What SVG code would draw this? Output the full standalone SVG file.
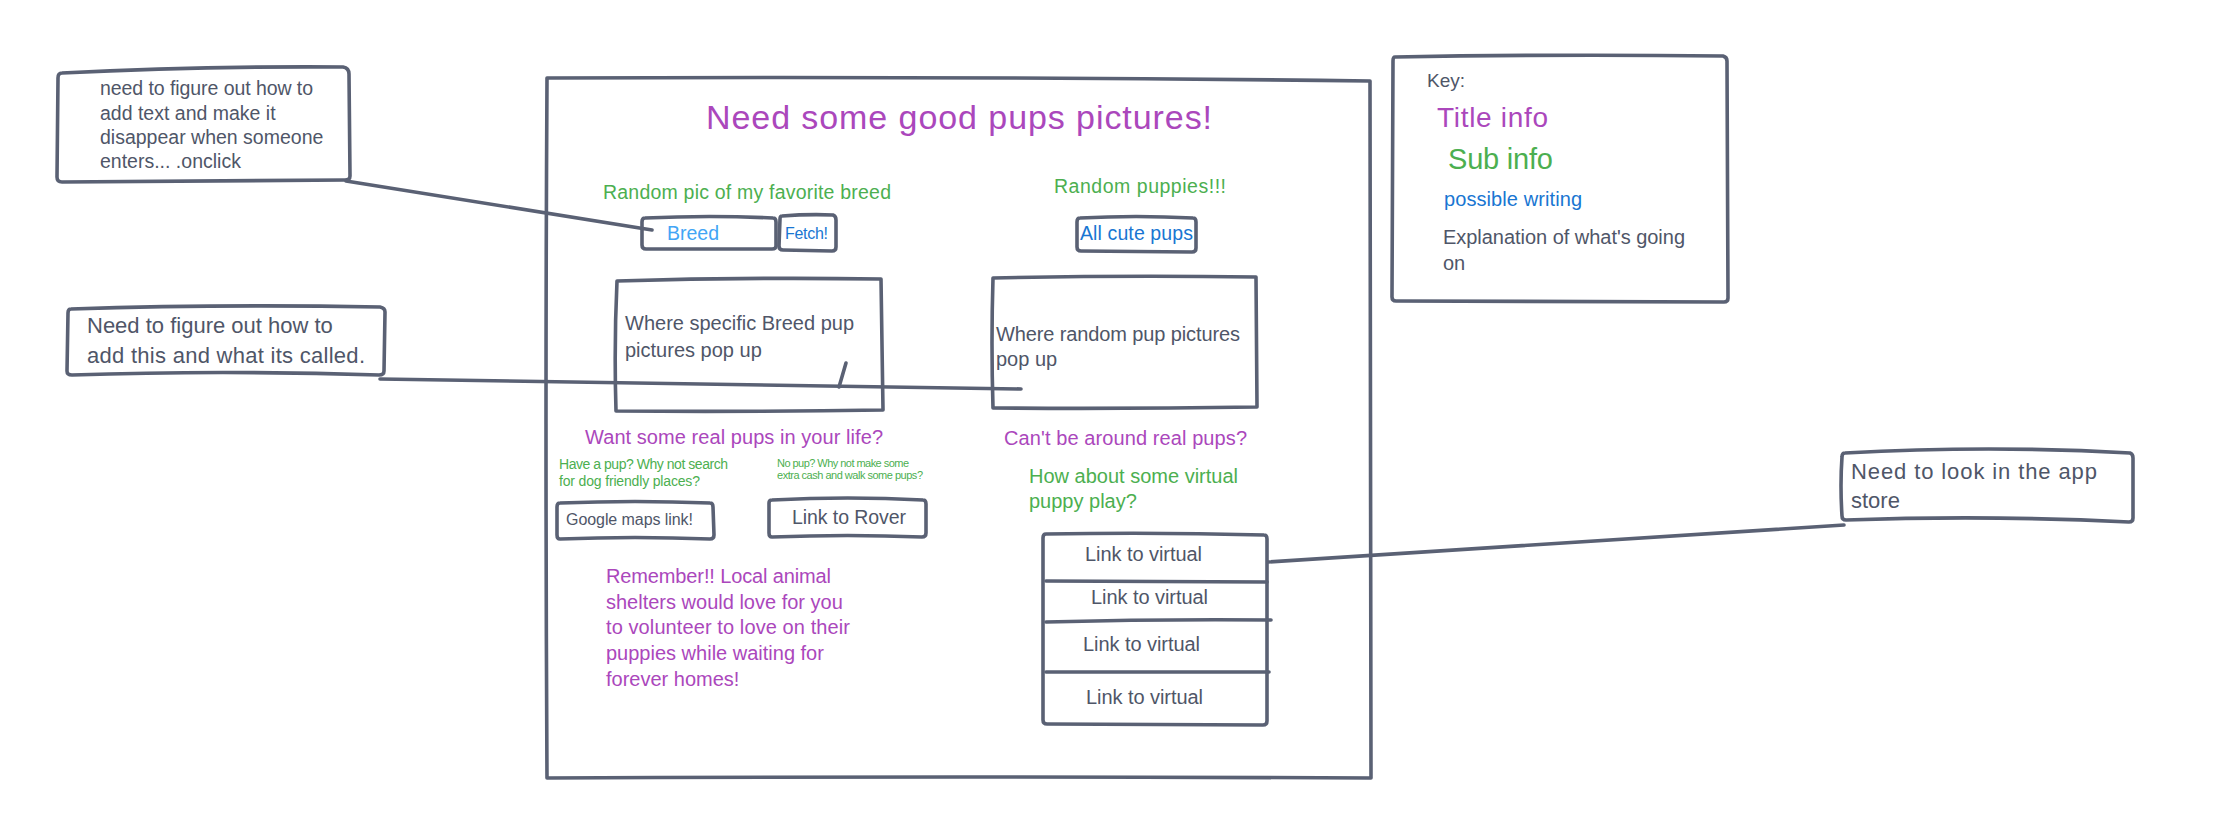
<svg xmlns="http://www.w3.org/2000/svg" width="2236" height="820" viewBox="0 0 2236 820">
  <defs>
    <style>
      .sk { fill: none; stroke: #5a6174; stroke-width: 3.6; stroke-linecap: round; stroke-linejoin: round; }
      .ln { fill: none; stroke: #5a6174; stroke-width: 3.6; stroke-linecap: round; }
      text { font-family: "Liberation Sans", Arial, sans-serif; }
      .gray { fill: #4f5668; }
      .purple { fill: #ab47bc; }
      .green { fill: #4caf50; }
      .blue { fill: #1976d2; }
      .lblue { fill: #42a5f5; }
    </style>
  </defs>
  <rect width="2236" height="820" fill="#ffffff"/>

  <!-- connectors -->
  <g id="connectors">
    <path class="ln" d="M346,181 L652,230"/>
    <path class="ln" d="M380,379 L1021,389"/>
    <path class="ln" d="M846,363 L839,387"/>
    <path class="ln" d="M1268,562 L1844,525"/>
  </g>

  <!-- note: breed input -->
  <g id="note-onclick">
    <path class="sk" d="M62,73 Q200,66 343,67 Q349,68 349,74 L350,176 Q350,180 345,180 L62,182 Q57,182 57,177 L58,78 Q58,73 62,73 Z"/>
    <text class="gray" font-size="19.5"><tspan x="100" y="95" textLength="213">need to figure out how to</tspan><tspan x="100" y="120">add text and make it</tspan><tspan x="100" y="144">disappear when someone</tspan><tspan x="100" y="168">enters... .onclick</tspan></text>
  </g>

  <!-- note: picture area -->
  <g id="note-picture-area">
    <path class="sk" d="M71,309 Q220,304 380,307 Q385,308 385,312 L384,371 Q384,375 379,375 Q220,370 72,375 Q67,375 67,371 L68,313 Q68,309 71,309 Z"/>
    <text class="gray" font-size="22"><tspan x="87" y="333">Need to figure out how to</tspan><tspan x="87" y="363" textLength="278">add this and what its called.</tspan></text>
  </g>

  <!-- note: app store -->
  <g id="note-app-store">
    <path class="sk" d="M1845,453 Q1990,445 2130,453 Q2133,454 2133,458 L2133,518 Q2133,522 2129,522 Q1990,515 1846,520 Q1842,520 1842,516 Q1840,485 1842,457 Q1842,453 1845,453 Z"/>
    <text class="gray" font-size="22"><tspan x="1851" y="479" textLength="246">Need to look in the app</tspan><tspan x="1851" y="508">store</tspan></text>
  </g>

  <!-- key -->
  <g id="key">
    <path class="sk" d="M1395,57 Q1560,54 1723,56 Q1727,57 1727,61 L1728,298 Q1728,302 1724,302 L1396,301 Q1392,301 1392,297 L1393,61 Q1393,57 1395,57 Z"/>
    <text class="gray" x="1427" y="87" font-size="19">Key:</text>
    <text class="purple" x="1437" y="127" font-size="28" textLength="111">Title info</text>
    <text class="green" x="1448" y="169" font-size="29" textLength="105">Sub info</text>
    <text class="blue" x="1444" y="206" font-size="20" textLength="138">possible writing</text>
    <text class="gray" font-size="20"><tspan x="1443" y="244" textLength="242">Explanation of what's going</tspan><tspan x="1443" y="270">on</tspan></text>
  </g>

  <!-- page frame -->
  <g id="page">
    <path class="sk" d="M547,78 Q960,76 1370,81 L1371,778 Q960,776 547,778 Q545,420 547,78 Z"/>
    <text class="purple" x="706" y="129" font-size="34" textLength="506">Need some good pups pictures!</text>
  </g>

  <!-- breed section -->
  <g id="breed-heading">
    <text class="green" x="603" y="199" font-size="19.5" textLength="288">Random pic of my favorite breed</text>
  </g>
  <g id="breed-input">
    <path class="sk" d="M645,218 Q710,215 773,218 Q776,218 776,222 L776,246 Q776,249 772,249 L646,249 Q642,249 642,245 L642,222 Q642,218 645,218 Z"/>
    <text class="lblue" x="667" y="240" font-size="19.5" textLength="52">Breed</text>
  </g>
  <g id="fetch-button">
    <path class="sk" d="M782,216 Q808,214 833,215 Q836,216 836,220 L836,247 Q836,251 832,251 L783,250 Q779,250 779,246 L780,219 Q780,216 782,216 Z"/>
    <text class="blue" x="785" y="239" font-size="16" textLength="43">Fetch!</text>
  </g>
  <g id="breed-pictures">
    <path class="sk" d="M617,281 Q750,277 881,279 L883,410 Q750,412 616,411 Q614,345 617,281 Z"/>
    <text class="gray" font-size="20"><tspan x="625" y="330" textLength="229">Where specific Breed pup</tspan><tspan x="625" y="357">pictures pop up</tspan></text>
  </g>

  <!-- random section -->
  <g id="random-heading">
    <text class="green" x="1054" y="193" font-size="19.5" textLength="172">Random puppies!!!</text>
  </g>
  <g id="all-pups-button">
    <path class="sk" d="M1080,218 Q1136,215 1193,218 Q1196,218 1196,222 L1196,248 Q1196,252 1192,252 L1081,251 Q1077,251 1077,247 L1077,222 Q1077,218 1080,218 Z"/>
    <text class="blue" x="1080" y="240" font-size="19.5" textLength="113">All cute pups</text>
  </g>
  <g id="random-pictures">
    <path class="sk" d="M993,278 Q1125,275 1256,277 L1257,407 Q1125,409 993,408 Q991,343 993,278 Z"/>
    <text class="gray" font-size="20"><tspan x="996" y="341" textLength="244">Where random pup pictures</tspan><tspan x="996" y="366">pop up</tspan></text>
  </g>

  <!-- real pups section -->
  <g id="real-pups-heading">
    <text class="purple" x="585" y="444" font-size="20" textLength="298">Want some real pups in your life?</text>
  </g>
  <g id="maps-hint">
    <text class="green" font-size="14"><tspan x="559" y="469" textLength="169">Have a pup? Why not search</tspan><tspan x="559" y="486" textLength="141">for dog friendly places?</tspan></text>
  </g>
  <g id="rover-hint">
    <text class="green" font-size="11"><tspan x="777" y="467" textLength="132">No pup? Why not make some</tspan><tspan x="777" y="479" textLength="146">extra cash and walk some pups?</tspan></text>
  </g>
  <g id="maps-link">
    <path class="sk" d="M560,503 Q635,500 710,503 Q713,503 713,507 L714,535 Q714,539 710,539 Q635,536 560,539 Q557,539 557,535 L557,507 Q557,503 560,503 Z"/>
    <text class="gray" x="566" y="525" font-size="16" textLength="127">Google maps link!</text>
  </g>
  <g id="rover-link">
    <path class="sk" d="M772,500 Q848,496 923,500 Q926,500 926,504 L926,533 Q926,537 922,537 Q848,534 772,537 Q769,537 769,533 L769,503 Q769,500 772,500 Z"/>
    <text class="gray" x="792" y="524" font-size="19.5" textLength="114">Link to Rover</text>
  </g>
  <g id="shelter-note">
    <text class="purple" font-size="20"><tspan x="606" y="583" textLength="225">Remember!! Local animal</tspan><tspan x="606" y="609">shelters would love for you</tspan><tspan x="606" y="634" textLength="244">to volunteer to love on their</tspan><tspan x="606" y="660">puppies while waiting for</tspan><tspan x="606" y="686">forever homes!</tspan></text>
  </g>

  <!-- virtual pups section -->
  <g id="virtual-heading">
    <text class="purple" x="1004" y="445" font-size="20" textLength="243">Can't be around real pups?</text>
    <text class="green" font-size="20"><tspan x="1029" y="483" textLength="209">How about some virtual</tspan><tspan x="1029" y="508">puppy play?</tspan></text>
  </g>
  <g id="virtual-links">
    <path class="sk" d="M1046,534 Q1155,532 1264,535 Q1267,535 1267,539 L1267,721 Q1267,725 1263,725 L1047,724 Q1043,724 1043,720 L1043,538 Q1043,534 1046,534 Z"/>
    <path class="ln" d="M1046,581 L1267,582"/>
    <path class="ln" d="M1046,622 Q1160,619 1271,620"/>
    <path class="ln" d="M1046,672 L1269,672"/>
    <text class="gray" font-size="20">
      <tspan x="1085" y="561" textLength="117">Link to virtual</tspan>
      <tspan x="1091" y="604" textLength="117">Link to virtual</tspan>
      <tspan x="1083" y="651" textLength="117">Link to virtual</tspan>
      <tspan x="1086" y="704" textLength="117">Link to virtual</tspan>
    </text>
  </g>
</svg>
